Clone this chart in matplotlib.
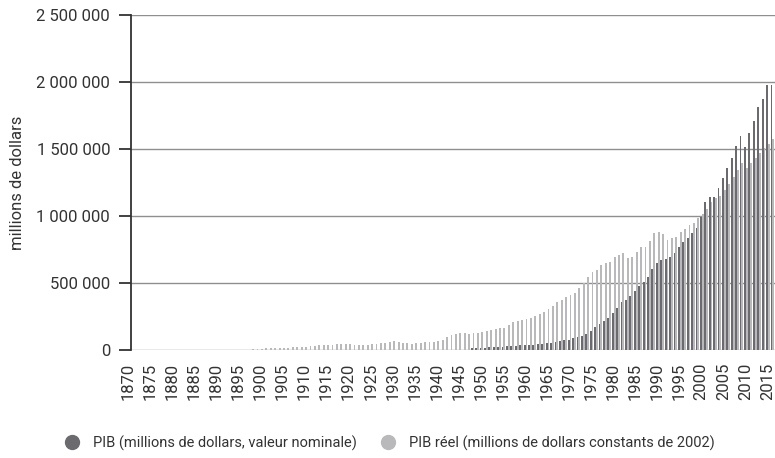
import matplotlib
matplotlib.use("Agg")
import matplotlib.pyplot as plt
import matplotlib.transforms as mtransforms
from matplotlib.lines import Line2D
from matplotlib.ticker import FuncFormatter, MultipleLocator
import numpy as np

plt.rcParams['font.family'] = ['Roboto', 'DejaVu Sans']

# ---- data (millions de dollars) ----
years = list(range(1870, 2016))

nominal_start = 1947
nominal_values = [
    13, 15, 16,                                   # 1947-1949
    18, 21, 24, 25, 25, 28, 32, 33, 35, 37,       # 1950-1959
    38, 40, 43, 46, 50, 55, 60, 64, 72, 78,       # 1960-1969
    86, 95, 105, 122, 145, 168, 193, 213, 240, 275,   # 1970-1979
    310, 355, 374, 405, 444, 477, 505, 548, 606, 647, # 1980-1989
    672, 677, 692, 721, 766, 808, 833, 875, 908, 995, # 1990-1999
    1107, 1145, 1145, 1207, 1281, 1356, 1430, 1522, 1597, 1517,  # 2000-2009
    1617, 1711, 1811, 1871, 1978, 1978,           # 2010-2015
]
nominal_values = [v * 1000 for v in nominal_values]

real_start = 1897
real_values = [
    10, 11, 11,                                   # 1897-1899
    12, 12, 13, 14, 14, 18, 20, 22, 22, 26,       # 1900-1909
    30, 33, 36, 37, 34, 36, 42, 45, 46, 44,       # 1910-1919
    40, 35, 38, 40, 42, 46, 50, 55, 62, 66,       # 1920-1929
    62, 55, 50, 47, 52, 55, 57, 62, 63, 67,       # 1930-1939
    78, 95, 115, 122, 128, 125, 122, 126, 128, 133,   # 1940-1949
    140, 148, 155, 162, 165, 190, 210, 218, 225, 232, # 1950-1959
    240, 252, 268, 285, 305, 330, 355, 372, 392, 412, # 1960-1969
    428, 465, 500, 547, 585, 597, 634, 652, 659, 692, # 1970-1979
    709, 721, 684, 697, 734, 766, 771, 816, 871, 878, # 1980-1989
    866, 821, 833, 846, 880, 905, 933, 950, 985, 1015,    # 1990-1999
    1050, 1107, 1132, 1150, 1195, 1240, 1290, 1340, 1393, 1356,  # 2000-2009
    1393, 1430, 1472, 1510, 1540, 1575,           # 2010-2015
]
real_values = [v * 1000 for v in real_values]

nominal_years = list(range(nominal_start, nominal_start + len(nominal_values)))
real_years = list(range(real_start, real_start + len(real_values)))

label_nominal = "PIB (millions de dollars, valeur nominale)"
label_real = "PIB réel (millions de dollars constants de 2002)"
ylabel = "millions de dollars"

dark = "#6b6b6f"
light = "#b9b9bb"
text_col = "#333333"
grid_col = "#8f8f8f"

# ---- figure ----
W, H = 775, 458
fig = plt.figure(figsize=(W / 100, H / 100), dpi=100)
ax = fig.add_axes([131 / W, 1 - 350 / H, (775 - 131) / W, 335 / H])

bw = 0.42
ax.bar(np.array(nominal_years) - 0.21, nominal_values, width=bw, color=dark, linewidth=0, zorder=3)
ax.bar(np.array(real_years) + 0.21, real_values, width=bw, color=light, linewidth=0, zorder=2)

ax.set_xlim(1869.5, 2015.6)
ax.set_ylim(0, 2500000)

ax.yaxis.set_major_locator(MultipleLocator(500000))
ax.yaxis.set_major_formatter(FuncFormatter(lambda v, p: f"{v:,.0f}".replace(",", " ")))
ax.set_xticks([y for y in years if y % 5 == 0])
ax.set_xticklabels([str(y) for y in years if y % 5 == 0], rotation=90)

ax.grid(axis='y', color=grid_col, linewidth=1.0, zorder=0)
ax.set_axisbelow(True)
for s in ['top', 'right', 'bottom']:
    ax.spines[s].set_visible(False)
ax.spines['left'].set_color('#333333')
ax.spines['left'].set_linewidth(1.3)
ax.spines['left'].set_zorder(5)

ax.tick_params(axis='y', length=9, width=1.3, color='#333333', labelsize=12, labelcolor=text_col, pad=6)
ax.tick_params(axis='x', length=0, labelsize=12, labelcolor=text_col, pad=9)

# shift year labels slightly left, as in the reference
shift = mtransforms.ScaledTranslation(-5 / 100, 0, fig.dpi_scale_trans)
for lbl in ax.get_xticklabels():
    lbl.set_transform(lbl.get_transform() + shift)

ax.set_ylabel(ylabel, fontsize=12, color=text_col)
ax.yaxis.set_label_coords((25 - 131) / 644, 0.5)

# ---- legend ----
h1 = Line2D([], [], marker='o', linestyle='', color=dark, markersize=10)
h2 = Line2D([], [], marker='o', linestyle='', color=light, markersize=10)
common = dict(loc='center left', frameon=False, fontsize=10.5, borderpad=0, borderaxespad=0,
              handlelength=1.0, handletextpad=0.9, labelcolor=text_col)
fig.legend(handles=[h1], labels=[label_nominal], bbox_to_anchor=(65 / W, 1 - 443 / H), **common)
fig.legend(handles=[h2], labels=[label_real], bbox_to_anchor=(381 / W, 1 - 443 / H), **common)

fig.savefig("out.png", dpi=100)
